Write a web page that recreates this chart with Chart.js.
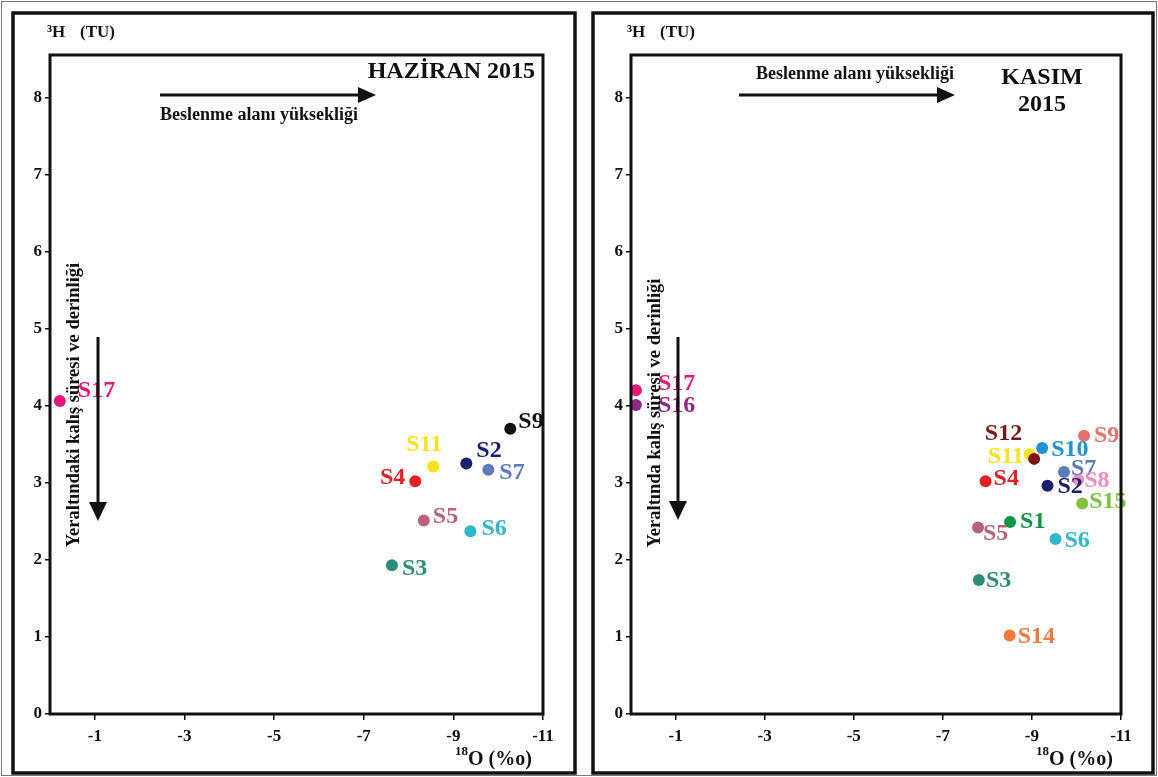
<!DOCTYPE html>
<html>
<head>
<meta charset="utf-8">
<script src="https://cdn.jsdelivr.net/npm/chart.js@4.4.0/dist/chart.umd.min.js"></script>
<style>
  html, body { margin: 0; padding: 0; background: #fff; }
  #wrap { position: relative; width: 1158px; height: 777px; overflow: hidden; }
  #edge { position: absolute; left: 1px; top: 1px; width: 1154px; height: 773px; border: 1px solid #777; }
  .panel { position: absolute; top: 0; width: 579px; height: 777px; }
</style>
</head>
<body>
<div id="wrap">
  <div id="edge"></div>
  <div class="panel" style="left:0"><canvas id="haziran"></canvas></div>
  <div class="panel" style="left:579px"><canvas id="kasim"></canvas></div>
</div>
<script>
const xTicks = [-1, -3, -5, -7, -9, -11];
const yTicks = [0, 1, 2, 3, 4, 5, 6, 7, 8];

// Haziran 2015
const junNames = ['S17', 'S11', 'S4', 'S2', 'S9', 'S7', 'S5', 'S6', 'S3'];
const junO18 = [-0.22, -8.55, -8.15, -9.29, -10.27, -9.78, -8.34, -9.38, -7.63];
const junH3 = [4.06, 3.21, 3.02, 3.25, 3.70, 3.17, 2.51, 2.37, 1.93];
const junColors = ['#e5177b', '#f7e21b', '#e31f26', '#1c1f6e', '#111111', '#5f79bd', '#b8627b', '#2fb7cc', '#2c8c78'];

// Kasim 2015
const novNames = ['S17', 'S16', 'S11', 'S12', 'S10', 'S9', 'S7', 'S8', 'S4', 'S2', 'S15', 'S1', 'S5', 'S6', 'S3', 'S14'];
const novO18 = [-0.11, -0.11, -8.95, -9.05, -9.23, -10.17, -9.72, -10.04, -7.96, -9.35, -10.13, -8.51, -7.79, -9.53, -7.81, -8.50];
const novH3 = [4.20, 4.01, 3.37, 3.31, 3.45, 3.61, 3.14, 3.04, 3.02, 2.96, 2.73, 2.49, 2.42, 2.27, 1.74, 1.02];
const novColors = ['#e5177b', '#8e2a85', '#f7e21b', '#7b1719', '#1e93d2', '#e8706f', '#5f79bd', '#f08fbd', '#e31f26', '#1c1f6e', '#80c342', '#0f9548', '#b8627b', '#2fb7cc', '#2c8c78', '#ef7b3d'];

// label placement relative to each point: [dx, dy, align]
const junLabelPos = [[18, -10, 'left'], [-9, -22, 'center'], [-10, -3, 'right'], [10, -13, 'left'], [8, -7, 'left'],
  [11, 3, 'left'], [9, -4, 'left'], [11, -3, 'left'], [10, 4, 'left']];
const novLabelPos = [[22, -6, 'left'], [22, 1, 'left'], [-6, 3, 'right'], [-12, -25, 'right'], [9, 2, 'left'],
  [10, 0, 'left'], [7, -3, 'left'], [6, 1, 'left'], [8, -2, 'left'], [10, 1, 'left'], [7, -2, 'left'],
  [10, 0, 'left'], [5, 6, 'left'], [9, 2, 'left'], [7, 1, 'left'], [8, 1, 'left']];

const SERIF = '"Liberation Serif", "Times New Roman", serif';

function arrowH(ctx, x1, x2, y) {
  ctx.beginPath(); ctx.moveTo(x1, y); ctx.lineTo(x2 - 14, y); ctx.stroke();
  ctx.beginPath(); ctx.moveTo(x2, y); ctx.lineTo(x2 - 18, y - 8); ctx.lineTo(x2 - 18, y + 8); ctx.closePath(); ctx.fill();
}
function arrowV(ctx, x, y1, y2) {
  ctx.beginPath(); ctx.moveTo(x, y1); ctx.lineTo(x, y2 - 14); ctx.stroke();
  ctx.beginPath(); ctx.moveTo(x, y2); ctx.lineTo(x - 9, y2 - 19); ctx.lineTo(x + 9, y2 - 19); ctx.closePath(); ctx.fill();
}

function decoPlugin(d, names, colors, labelPos) {
  return {
    id: 'deco',
    afterDatasetsDraw(chart) {
      const ctx = chart.ctx;
      const pts = chart.getDatasetMeta(0).data;
      ctx.save();
      ctx.font = 'bold 24px ' + SERIF;
      ctx.textBaseline = 'middle';
      pts.forEach((p, i) => {
        const lp = labelPos[i];
        ctx.fillStyle = colors[i];
        ctx.textAlign = lp[2];
        ctx.fillText(names[i], p.x + lp[0], p.y + lp[1]);
      });
      ctx.restore();
    },
    afterDraw(chart) {
      const ctx = chart.ctx, a = chart.chartArea;
      ctx.save();
      ctx.strokeStyle = '#111'; ctx.fillStyle = '#111';
      ctx.lineWidth = 3.5;
      ctx.strokeRect(d.frame[0], d.frame[1], d.frame[2] - d.frame[0], d.frame[3] - d.frame[1]);
      ctx.lineWidth = 3;
      ctx.strokeRect(a.left, a.top, a.right - a.left, a.bottom - a.top);

      ctx.textBaseline = 'middle';
      ctx.textAlign = 'left';
      ctx.font = 'bold 17px ' + SERIF;
      ctx.fillText('³H', d.yTitleX, 33);
      ctx.fillText('(TU)', d.yTitleX + 33, 33);

      ctx.font = 'bold 13px ' + SERIF;
      ctx.fillText('18', d.xTitleX, 752);
      ctx.font = 'bold 20px ' + SERIF;
      ctx.fillText('O (%o)', d.xTitleX + 13, 760);

      ctx.font = 'bold 24px ' + SERIF;
      d.title.forEach(t => { ctx.textAlign = t.align; ctx.fillText(t.text, t.x, t.y); });

      ctx.lineWidth = 3;
      arrowH(ctx, d.hArrow[0], d.hArrow[1], d.hArrow[2]);
      ctx.font = 'bold 18px ' + SERIF;
      ctx.textAlign = 'center';
      ctx.fillText(d.hText[0], d.hText[1], d.hText[2]);

      arrowV(ctx, d.vArrow[0], d.vArrow[1], d.vArrow[2]);
      ctx.translate(d.vText[1], d.vText[2]);
      ctx.rotate(-Math.PI / 2);
      ctx.font = 'bold 18.5px ' + SERIF;
      ctx.fillText(d.vText[0], 0, 0);
      ctx.restore();
    }
  };
}

function makePanel(id, names, xs, ys, colors, labelPos, area, d) {
  const tickFont = { family: SERIF, size: 17, weight: 'bold' };
  new Chart(document.getElementById(id), {
    type: 'scatter',
    data: {
      datasets: [{
        data: xs.map((x, i) => ({ x: x, y: ys[i] })),
        pointRadius: 6,
        pointBorderWidth: 0,
        pointBackgroundColor: colors,
        pointBorderColor: colors
      }]
    },
    options: {
      responsive: true,
      maintainAspectRatio: false,
      animation: false,
      layout: { padding: { left: 0, right: 579 - area.right, top: area.top, bottom: 0 } },
      plugins: { legend: { display: false }, tooltip: { enabled: false } },
      scales: {
        x: {
          type: 'linear', min: -11, max: 0, reverse: true,
          afterBuildTicks: s => { s.ticks = xTicks.map(v => ({ value: v })); },
          afterFit: s => { s.height = 777 - area.bottom; },
          border: { display: false },
          grid: { drawOnChartArea: false, drawTicks: true, tickLength: 6, color: '#111', lineWidth: 1.5 },
          ticks: { font: tickFont, color: '#111', padding: 6, maxRotation: 0 }
        },
        y: {
          type: 'linear', min: 0, max: 8.55,
          afterBuildTicks: s => { s.ticks = yTicks.map(v => ({ value: v })); },
          afterFit: s => { s.width = area.left; },
          border: { display: false },
          grid: { drawOnChartArea: false, drawTicks: true, tickLength: 5, color: '#111', lineWidth: 1.5 },
          ticks: { font: tickFont, color: '#111', padding: 3 }
        }
      }
    },
    plugins: [decoPlugin(d, names, colors, labelPos)]
  });
}

makePanel('haziran', junNames, junO18, junH3, junColors, junLabelPos,
  { left: 50, right: 543, top: 55, bottom: 714 },
  {
    frame: [13, 13, 575, 773],
    title: [{ text: 'HAZİRAN 2015', x: 535, y: 72, align: 'right' }],
    hArrow: [160, 376, 95],
    hText: ['Beslenme alanı yüksekliği', 259, 115],
    vArrow: [98, 337, 521],
    vText: ['Yeraltındaki kalış süresi ve derinliği', 74, 405],
    yTitleX: 47, xTitleX: 455
  });

makePanel('kasim', novNames, novO18, novH3, novColors, novLabelPos,
  { left: 52, right: 542, top: 55, bottom: 714 },
  {
    frame: [14, 13, 574, 773],
    title: [{ text: 'KASIM', x: 463, y: 78, align: 'center' }, { text: '2015', x: 463, y: 105, align: 'center' }],
    hArrow: [160, 376, 95],
    hText: ['Beslenme alanı yüksekliği', 276, 74],
    vArrow: [99, 337, 520],
    vText: ['Yeraltında kalış süresi ve derinliği', 76, 413],
    yTitleX: 48, xTitleX: 457
  });
</script>
</body>
</html>
